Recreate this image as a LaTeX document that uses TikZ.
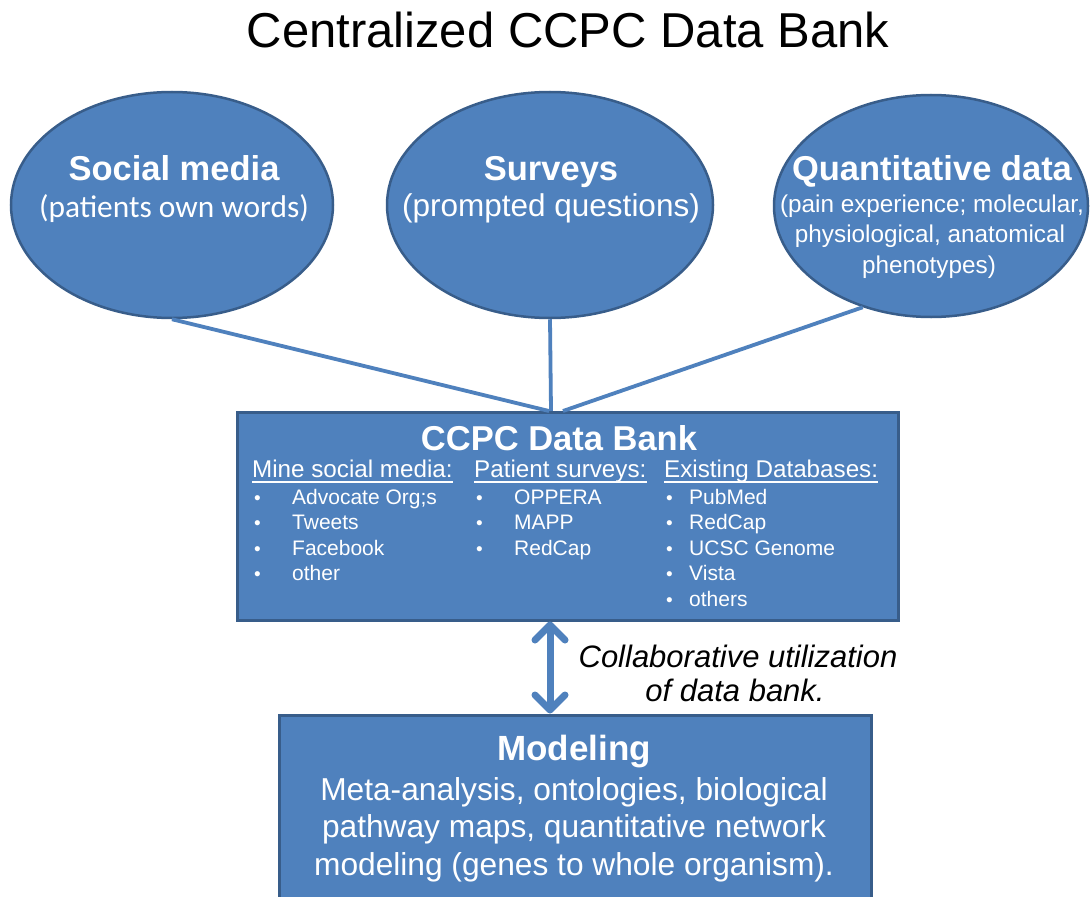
\documentclass[tikz,border=0pt]{standalone}
\usepackage{fontspec}
\setmainfont{Liberation Sans}
\newfontfamily\calibrifont{Carlito}
\usetikzlibrary{shapes.geometric,arrows.meta,calc}
\definecolor{bfill}{HTML}{4F81BD}
\definecolor{bdraw}{HTML}{385D8A}
\definecolor{lnk}{HTML}{4F81BD}
\begin{document}
\begin{tikzpicture}[x=1pt,y=-1pt,
  bubble/.style={ellipse, fill=bfill, draw=bdraw, line width=2.5pt, inner sep=0pt},
  panel/.style={rectangle, fill=bfill, draw=bdraw, line width=3pt, inner sep=0pt},
  txt/.style={text=white, inner sep=0pt, anchor=base},
  hb/.style={txt, font=\fontsize{34.5}{40}\selectfont\bfseries},
  sub/.style={txt, font=\fontsize{31.5}{36}\selectfont},
  qsub/.style={txt, font=\fontsize{24.3}{30}\selectfont},
  colhead/.style={txt, anchor=base west, font=\fontsize{24.2}{27}\selectfont},
  item/.style={txt, anchor=base west, font=\fontsize{21}{25}\selectfont},
  bul/.style={txt, anchor=base west, font=\fontsize{19}{22}\selectfont},
  modtxt/.style={txt, font=\fontsize{31.7}{37.5}\selectfont},
  conn/.style={draw=lnk, line width=3.8pt},
  dbl/.style={draw=lnk, line width=7pt, {Straight Barb[length=15pt,width=30pt,round]}-{Straight Barb[length=15pt,width=30pt,round]}},
  note/.style={txt, text=black, font=\itshape\fontsize{31}{36}\selectfont}
]
\fill[white] (0,0) rectangle (1091,896);
\clip (0,0) rectangle (1091,896);

% title
\node[txt, text=black, font=\fontsize{49}{55}\selectfont] (title) at (568,48) {Centralized CCPC Data Bank};

% ellipses
\node[bubble, minimum width=322pt, minimum height=226pt] (e1) at (172,205) {};
\node[bubble, minimum width=326pt, minimum height=226pt] (e2) at (550,205) {};
\node[bubble, minimum width=314pt, minimum height=222pt] (e3) at (931,206) {};

\node[hb] (t1) at (174,180) {Social media};
\node[txt, font=\calibrifont\fontsize{31.4}{36}\selectfont] (s1) at (174,217) {(patients own words)};
\node[hb] (t2) at (551,180) {Surveys};
\node[sub] (s2) at (551,216) {(prompted questions)};
\node[hb] (t3) at (932,180) {Quantitative data};
\node[qsub] (s3a) at (932,212) {(pain experience; molecular,};
\node[qsub] (s3b) at (930,242.5) {physiological, anatomical};
\node[qsub] (s3c) at (929,273) {phenotypes)};

% boxes
\node[panel, minimum width=661pt, minimum height=208pt] (db) at (567.5,516) {};
\node[panel, minimum width=592pt, minimum height=190pt] (mod) at (575,810) {};

% connectors
\coordinate (j1) at (549,411);
\coordinate (j2) at (551,411);
\coordinate (j3) at (563,411);
\draw[conn] (e1.south) -- (j1);
\draw[conn] (e2.south) -- (j2);
\draw[conn] (e3.236) -- (j3);

% data bank text
\node[hb, font=\fontsize{34.5}{40}\selectfont\bfseries] (dbt) at (559,450.5) {CCPC Data Bank};
\node[colhead] (h1) at (252,477) {Mine social media:};
\node[colhead] (h2) at (474,477) {Patient surveys:};
\node[colhead] (h3) at (664,477) {Existing Databases:};
\foreach \hh in {h1,h2,h3}
  \draw[white, line width=1.3pt] ([yshift=-5pt]\hh.base west) -- ([yshift=-5pt]\hh.base east);

\foreach \lbl [count=\i] in {Advocate Org;s,Tweets,Facebook,other} {
  \node[bul] (ab\i) at (254, 478.5+25.5*\i) {\textbullet};
  \node[item] (a\i) at (292, 478.5+25.5*\i) {\lbl};
}
\foreach \lbl [count=\i] in {OPPERA,MAPP,RedCap} {
  \node[bul] (bb\i) at (476, 478.5+25.5*\i) {\textbullet};
  \node[item] (b\i) at (514, 478.5+25.5*\i) {\lbl};
}
\foreach \lbl [count=\i] in {PubMed,RedCap,UCSC Genome,Vista,others} {
  \node[bul] (cb\i) at (666, 478.5+25.5*\i) {\textbullet};
  \node[item] (c\i) at (689, 478.5+25.5*\i) {\lbl};
}

% double arrow
\coordinate (ax) at (550,0);
\draw[dbl] (db.south -| ax) -- (mod.north -| ax);
\node[note] (n1) at (738,667) {Collaborative utilization};
\node[note] (n2) at (735,701) {of data bank.};

% modeling text
\node[hb, font=\fontsize{35}{40}\selectfont\bfseries] (mt) at (574,760) {Modeling};
\node[modtxt] (m1) at (574,800) {Meta-analysis, ontologies, biological};
\node[modtxt] (m2) at (574,837.5) {pathway maps, quantitative network};
\node[modtxt] (m3) at (574,875) {modeling (genes to whole organism).};
\end{tikzpicture}
\end{document}
